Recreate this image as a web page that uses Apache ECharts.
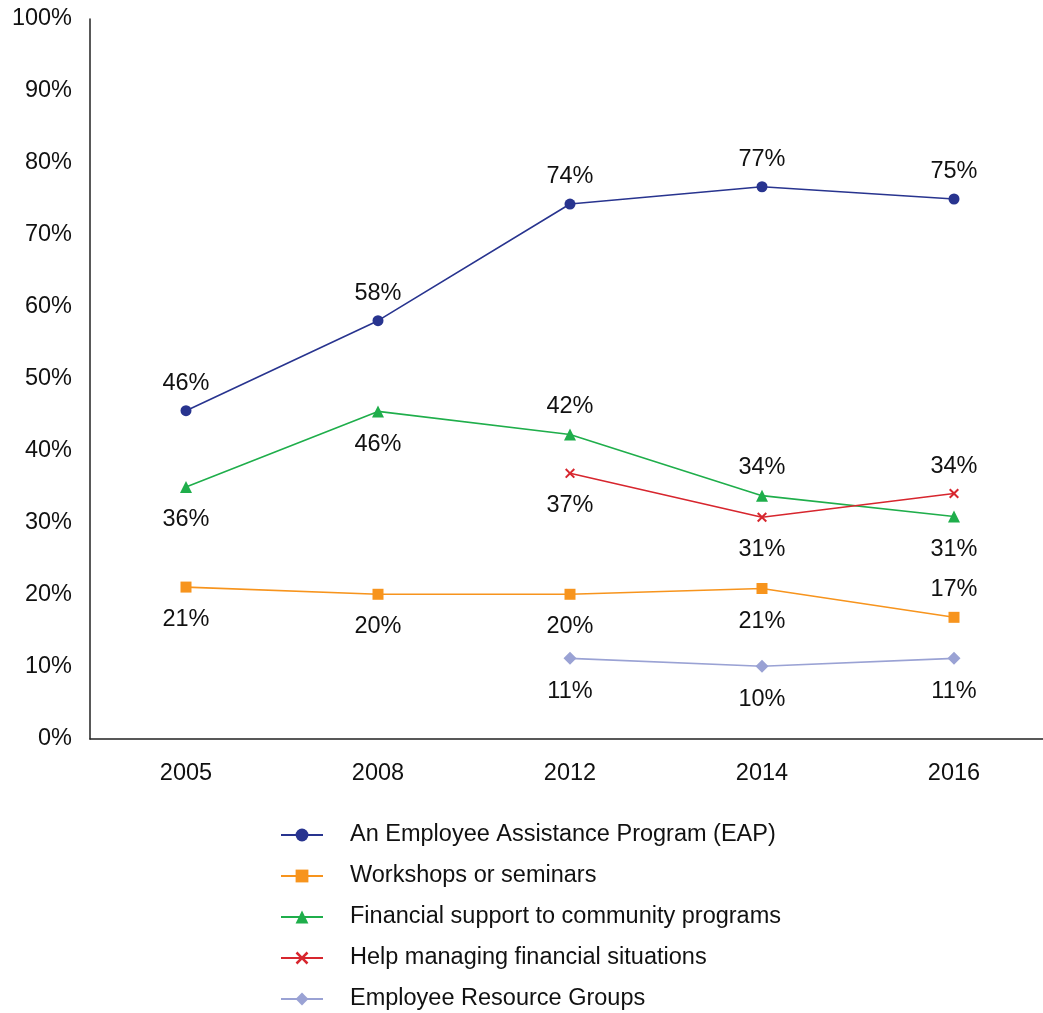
<!DOCTYPE html>
<html>
<head>
<meta charset="utf-8">
<script src="https://cdn.jsdelivr.net/npm/echarts@6/dist/echarts.min.js"></script>
<style>
  html, body { margin: 0; padding: 0; background: #fff; }
  #chart { width: 1043px; height: 1013px; }
</style>
</head>
<body>
<div id="chart"></div>
<script>
const years = ['2005', '2008', '2012', '2014', '2016']
const yTicks = [0, 10, 20, 30, 40, 50, 60, 70, 80, 90, 100]

// values, labels as printed
const eap = [45.6, 58.1, 74.3, 76.7, 75.0]
const eapLabels = ['46%', '58%', '74%', '77%', '75%']
const workshops = [21.1, 20.1, 20.1, 20.9, 16.9]
const workshopsLabels = ['21%', '20%', '20%', '21%', '17%']
const community = [35.0, 45.5, 42.3, 33.8, 30.9]
const communityLabels = ['36%', '46%', '42%', '34%', '31%']
const helpManaging = [null, null, 36.9, 30.8, 34.1]
const helpManagingLabels = ['', '', '37%', '31%', '34%']
const erg = [null, null, 11.2, 10.1, 11.2]
const ergLabels = ['', '', '11%', '10%', '11%']

const FONT = '"Liberation Sans", Arial, sans-serif'
const FS = 23.5
const X_MARK = 'path://M0,1.4 L1.4,0 L5,3.6 L8.6,0 L10,1.4 L6.4,5 L10,8.6 L8.6,10 L5,6.4 L1.4,10 L0,8.6 L3.6,5 Z'

function makeSeries (name, values, labels, color, symbol, size, places) {
  return {
    name: name,
    type: 'line',
    symbol: symbol,
    symbolSize: size,
    color: color,
    lineStyle: { color: color, width: 1.6 },
    itemStyle: { color: color },
    connectNulls: false,
    data: values.map((v, i) => ({
      value: v,
      label: {
        show: v !== null,
        position: places[i],
        distance: places[i] === 'top' ? 10 : 15,
        formatter: labels[i],
        fontSize: FS,
        fontFamily: FONT,
        color: '#111'
      }
    }))
  }
}

const chart = echarts.init(document.getElementById('chart'))

chart.setOption({
  animation: false,
  textStyle: { fontFamily: FONT },
  grid: {
    left: 90,
    width: 960,
    top: 19,
    bottom: 274,
    containLabel: false,
    outerBoundsMode: 'none'
  },
  legend: {
    orient: 'vertical',
    left: 280,
    top: 823,
    height: 200,
    padding: 0,
    itemWidth: 42,
    itemHeight: 16,
    itemGap: 17,
    lineStyle: { width: 2 },
    textStyle: { fontSize: FS, color: '#111', fontFamily: FONT, padding: [0, 0, 0, 22] }
  },
  xAxis: {
    type: 'category',
    data: years,
    boundaryGap: true,
    axisLine: { lineStyle: { color: '#222', width: 1.5 } },
    axisTick: { show: false },
    axisLabel: { fontSize: FS, color: '#111', margin: 23, fontFamily: FONT }
  },
  yAxis: {
    type: 'value',
    min: yTicks[0],
    max: yTicks[yTicks.length - 1],
    interval: 10,
    axisLine: { show: true, lineStyle: { color: '#222', width: 1.5 } },
    axisTick: { show: false },
    splitLine: { show: false },
    axisLabel: {
      fontSize: FS,
      color: '#111',
      margin: 18,
      fontFamily: FONT,
      formatter: '{value}%'
    }
  },
  series: [
    makeSeries('An Employee Assistance Program (EAP)', eap, eapLabels, '#28348f', 'circle', 11,
      ['top', 'top', 'top', 'top', 'top']),
    makeSeries('Workshops or seminars', workshops, workshopsLabels, '#f7941d', 'rect', 11,
      ['bottom', 'bottom', 'bottom', 'bottom', 'top']),
    makeSeries('Financial support to community programs', community, communityLabels, '#1fae4b', 'triangle', 12,
      ['bottom', 'bottom', 'top', 'top', 'bottom']),
    makeSeries('Help managing financial situations', helpManaging, helpManagingLabels, '#d7262e', X_MARK, 10,
      ['bottom', 'bottom', 'bottom', 'bottom', 'top']),
    makeSeries('Employee Resource Groups', erg, ergLabels, '#9aa2d4', 'diamond', 13,
      ['bottom', 'bottom', 'bottom', 'bottom', 'bottom'])
  ]
})
</script>
</body>
</html>
